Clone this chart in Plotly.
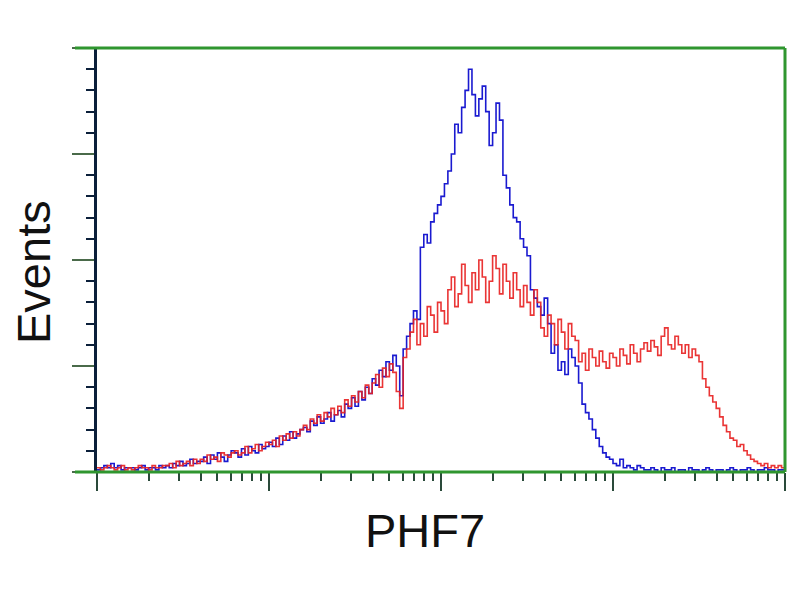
import plotly.graph_objects as go

# log10 channel position of each histogram bin (0.02 decade steps, 4 decades)
bin_log = [round(i * 0.02, 2) for i in range(201)]
channel = [10 ** v for v in bin_log]

# isotype control (blue)
control_counts = [
    1, 2, 3, 2, 4, 2, 3, 1, 2, 2,
    2, 1, 2, 3, 1, 2, 2, 1, 3, 2,
    3, 2, 4, 3, 5, 3, 4, 6, 4, 5,
    5, 7, 4, 8, 6, 9, 7, 5, 8, 10,
    9, 7, 11, 8, 12, 10, 9, 13, 11, 12,
    14, 12, 16, 13, 17, 15, 19, 16, 18, 20,
    21, 19, 24, 22, 26, 23, 25, 28, 24, 27,
    29, 26, 32, 30, 35, 31, 38, 34, 40, 37,
    44, 41, 48, 45, 52, 48, 55, 50, 36, 58,
    64, 70, 76, 72, 106, 112, 108, 118, 122, 126,
    130, 136, 142, 150, 164, 160, 172, 180, 190, 178,
    168, 176, 182, 170, 154, 160, 174, 166, 140, 134,
    126, 120, 118, 110, 106, 102, 86, 82, 78, 74,
    82, 70, 56, 60, 48, 52, 46, 58, 54, 50,
    42, 32, 28, 25, 20, 16, 12, 9, 7, 6,
    4, 3, 6, 2, 3, 2, 1, 3, 2, 1,
    1, 2, 1, 0, 2, 1, 1, 2, 0, 1,
    1, 0, 2, 1, 1, 0, 1, 2, 1, 0,
    1, 1, 0, 1, 2, 1, 0, 1, 1, 2,
    1, 0, 1, 1, 2, 1, 1, 0, 1, 1,
    1,
]

# PHF7 stained sample (red)
sample_counts = [
    2, 1, 2, 3, 2, 1, 2, 3, 1, 2,
    1, 2, 3, 2, 2, 1, 3, 2, 2, 3,
    3, 4, 2, 5, 3, 4, 5, 3, 6, 4,
    6, 5, 8, 6, 7, 5, 9, 8, 7, 9,
    10, 8, 9, 12, 9, 11, 13, 10, 12, 14,
    13, 15, 12, 17, 15, 18, 16, 19, 17, 20,
    22, 20, 25, 23, 27, 24, 28, 26, 30, 27,
    31, 28, 34, 31, 36, 33, 38, 35, 41, 37,
    42, 46, 40, 49, 45, 51, 47, 38, 30, 54,
    58, 66, 72, 60, 70, 64, 78, 74, 66, 80,
    76, 70, 86, 92, 78, 84, 98, 88, 80, 94,
    86, 100, 92, 80, 90, 102, 96, 84, 98, 90,
    82, 94, 86, 78, 88, 80, 74, 86, 80, 68,
    64, 74, 70, 60, 72, 66, 58, 70, 64, 62,
    52, 56, 48, 58, 54, 50, 57, 52, 49, 56,
    54, 50, 58, 55, 51, 60, 56, 52, 58, 61,
    57, 62, 59, 55, 64, 68, 60, 58, 64, 60,
    56, 60, 54, 58, 55, 52, 44, 40, 36, 33,
    30, 26, 22, 19, 16, 15, 12, 13, 10, 8,
    6, 5, 4, 3, 4, 2, 3, 2, 3, 2,
    4,
]

frame_green = '#2f962f'
axis_dark = '#0b1f3a'

fig = go.Figure()
fig.add_trace(go.Scatter(x=channel, y=control_counts, mode='lines',
                         line=dict(color='#1a1ad0', width=1.6, shape='hv'),
                         showlegend=False))
fig.add_trace(go.Scatter(x=channel, y=sample_counts, mode='lines',
                         line=dict(color='#e82020', width=1.6, shape='hv'),
                         opacity=0.9, showlegend=False))

# green frame: top, right, bottom (top/bottom run past the left axis)
ext = -22 / 688
fig.add_shape(type='line', xref='paper', yref='paper', x0=ext, x1=1, y0=1, y1=1,
              line=dict(color=frame_green, width=3))
fig.add_shape(type='line', xref='paper', yref='paper', x0=1, x1=1, y0=0, y1=1,
              line=dict(color=frame_green, width=3))
fig.add_shape(type='line', xref='paper', yref='paper', x0=ext, x1=1, y0=0, y1=0,
              line=dict(color=frame_green, width=3))

fig.update_xaxes(type='log', range=[0, 4], showgrid=False, zeroline=False,
                 showline=False, showticklabels=False,
                 tickvals=[1, 10, 100, 1000, 10000], ticks='outside',
                 ticklen=18, tickwidth=2, tickcolor='#2a4a3a',
                 minor=dict(ticks='outside', ticklen=8, tickwidth=2,
                            tickcolor='#2a4a3a', dtick='D1', showgrid=False))
fig.update_yaxes(range=[0, 200], showgrid=False, zeroline=False,
                 showline=True, linecolor=axis_dark, linewidth=3,
                 showticklabels=False, dtick=50, ticks='outside',
                 ticklen=22, tickwidth=2, tickcolor='#4a6a4a',
                 minor=dict(ticks='outside', ticklen=8, tickwidth=2,
                            tickcolor=axis_dark, dtick=10, showgrid=False))

fig.add_annotation(text='PHF7', xref='paper', yref='paper', x=(425 - 97) / 688,
                   y=-(530 - 472) / 424, xanchor='center', yanchor='middle',
                   showarrow=False,
                   font=dict(family='Liberation Sans, Arial', size=47, color='#111'))
fig.add_annotation(text='Events', xref='paper', yref='paper', x=-(97 - 33) / 688,
                   y=(472 - 272) / 424, xanchor='center', yanchor='middle',
                   showarrow=False, textangle=-90,
                   font=dict(family='Liberation Sans, Arial', size=47, color='#111'))

# page body has an 8px offset, so margins are trimmed to land the plot at 97..785 / 48..472
fig.update_layout(width=800, height=600, plot_bgcolor='white', paper_bgcolor='white',
                  margin=dict(l=89, r=23, t=40, b=136))

fig.write_html("out.html")
